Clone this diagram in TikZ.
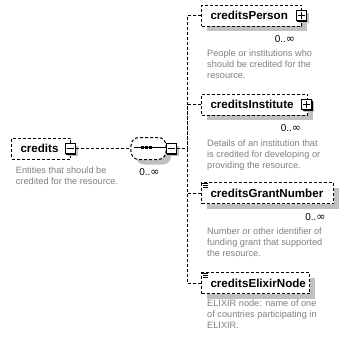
\documentclass[tikz,border=0pt]{standalone}
\usepackage{fontspec}
\setmainfont{Liberation Sans}
\newfontfamily\symfont{DejaVu Sans}
\usetikzlibrary{shadows}
\definecolor{desctext}{RGB}{128,128,128}
\definecolor{shadegray}{RGB}{192,192,192}
\newcommand{\unbounded}{0..{\symfont\fontsize{11bp}{12bp}\selectfont ∞}}

\begin{document}
\begin{tikzpicture}[x=1bp,y=-1bp,
  dashline/.style={line width=1bp, dash pattern=on 3bp off 2bp},
  shaded/.style={general shadow={shadow xshift=5bp, shadow yshift=-5bp, fill=shadegray}},
  elem/.style={dashline, draw=black, fill=white, minimum height=21bp,
    inner xsep=9bp, inner ysep=0pt, align=left, anchor=west,
    font=\fontsize{11.6bp}{13bp}\selectfont\bfseries},
  btn/.style={draw=black, solid, line width=1bp, fill=white, minimum size=10bp,
    inner sep=0pt,
    general shadow={shadow xshift=2.5bp, shadow yshift=-2.5bp, fill=shadegray},
    general shadow={shadow xshift=1bp, shadow yshift=-1bp, fill=black}},
  sign/.style={line width=1bp},
  occ/.style={inner sep=0pt, font=\fontsize{10bp}{12bp}\selectfont},
  desc/.style={inner sep=0pt, anchor=north west, align=left, text=desctext,
    font=\fontsize{9.2bp}{11.2bp}\selectfont},
  icon/.style={line width=1bp},
]
% canvas
\path[use as bounding box, fill=white] (0,0) rectangle (348,337);

% root element
\node[elem, text width=41bp] (root) at (11,148.5) {credits};
\node[btn] (rootbtn) at (70,148.5) {};
\draw[sign] ([xshift=2bp]rootbtn.west) -- ([xshift=-2bp]rootbtn.east);
\node[desc] (rootdesc) at (15.7,166.7) {Entities that should be\\credited for the resource.};

% sequence compositor
\node[dashline, draw=black, fill=white, shaded, rounded corners=8bp,
      minimum width=35bp, minimum height=22bp, inner sep=0pt] (seq) at (148.5,148.5) {};
\draw[line width=1bp] (134,147.5) -- (166,147.5);
\foreach \dx in {142,146,150}
  \fill (\dx-1.5,146) rectangle (\dx+1.5,149);
\node[btn] (seqbtn) at (171,148.5) {};
\draw[sign] ([xshift=2bp]seqbtn.west) -- ([xshift=-2bp]seqbtn.east);
\node[occ] (seqocc) at (149.5,172) {\unbounded};

% child elements
\node[elem, shaded, text width=82bp] (person) at (201,15.5) {creditsPerson};
\node[btn] (personbtn) at (301,15.5) {};
\draw[sign] ([xshift=2bp]personbtn.west) -- ([xshift=-2bp]personbtn.east);
\draw[sign] ([yshift=-2bp]personbtn.north) -- ([yshift=2bp]personbtn.south);
\node[occ] (personocc) at (285,39) {\unbounded};
\node[desc] (persondesc) at (207,49.7) {People or institutions who\\should be credited for the\\resource.};

\node[elem, shaded, text width=88bp] (inst) at (201,104.5) {creditsInstitute};
\node[btn] (instbtn) at (306.5,104.5) {};
\draw[sign] ([xshift=2bp]instbtn.west) -- ([xshift=-2bp]instbtn.east);
\draw[sign] ([yshift=-2bp]instbtn.north) -- ([yshift=2bp]instbtn.south);
\node[occ] (instocc) at (291,128) {\unbounded};
\node[desc] (instdesc) at (207,139.7) {Details of an institution that\\is credited for developing or\\providing the resource.};

\node[elem, shaded, text width=114bp] (grant) at (201,193) {creditsGrantNumber};
\draw[icon] (202,183) -- (208,183) (203,185) -- (208,185) (203,187) -- (208,187);
\node[occ] (grantocc) at (315.5,217) {\unbounded};
\node[desc] (grantdesc) at (207,227.7) {Number or other identifier of\\funding grant that supported\\the resource.};

\node[elem, shaded, text width=90bp] (elixir) at (201,283) {creditsElixirNode};
\draw[icon] (202,273) -- (208,273) (203,275) -- (208,275) (203,277) -- (208,277);
\node[desc] (elixirdesc) at (207,299.7) {ELIXIR node: name of one\\of countries participating in\\ELIXIR.};

% connectors
\coordinate (bus) at (187,148.5);
\draw[dashline] (rootbtn.east) -- (seq.west);
\draw[dashline] (seqbtn.east) -- (bus);
\draw[dashline] (person.west) -| (bus);
\draw[dashline] (inst.west) -| (bus);
\draw[dashline] (grant.west) -| (bus);
\draw[dashline] (elixir.west) -| (bus);
\end{tikzpicture}
\end{document}
